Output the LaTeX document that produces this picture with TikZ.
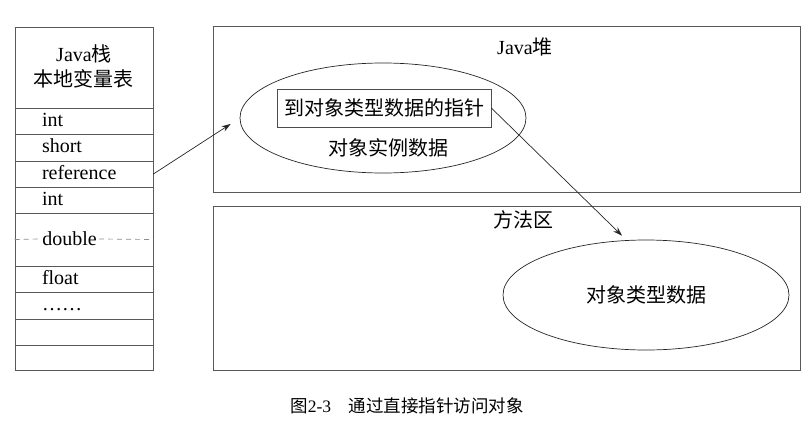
\documentclass[tikz,border=0pt]{standalone}
\usepackage{fontspec}
\setmainfont{Liberation Serif}
\newfontfamily\cjk{Noto Sans CJK SC}
\usetikzlibrary{shapes.geometric,arrows.meta}
\begin{document}
\begin{tikzpicture}
  [x=1pt,y=-1pt,line width=.7pt,
   every node/.style={font=\fontsize{20}{25}\selectfont},
   cell/.style={rectangle,draw=black!65,minimum width=138pt,text width=84pt,inner xsep=27pt,inner ysep=0pt,align=left,text height=14pt,text depth=4pt},
   area/.style={rectangle,draw=black!65,minimum width=587pt},
   blob/.style={ellipse,draw=black!85,minimum width=286pt,minimum height=110pt},
   link/.style={draw=black!85,-{Stealth[length=9pt,width=6pt]}}]
  \useasboundingbox (0,0) rectangle (809,423);
  % Java stack
  \node[cell,minimum height=81pt] (head) at (84,67.5) {};
  \node[align=center] (headtxt) at (84,66) {Java{\cjk 栈}\\{\cjk 本地变量表}};
  \foreach \name/\txt/\top/\bot in {int1/int/108/134,short/short/134/161,ref/reference/161/187,int2/int/187/213,
      dbl//213/266,flt/float/266/292,dots/……/292/319,free1//319/345,free2//345/370}
    \node[cell,minimum height={(\bot-\top)*1pt}] (\name) at (84,{(\top+\bot)/2}) {\txt};
  \node[anchor=west,inner xsep=2pt] (dbltxt) at (40,239) {double};
  \draw[dash pattern=on 5pt off 4pt,black!45] (dbl.west) -- (dbltxt.west) (dbltxt.east) -- (dbl.east);
  % heap and method area
  \node[area,minimum height=166pt] (heap) at (506.5,109) {};
  \node (heaptxt) at (525,47) {Java{\cjk 堆}};
  \node[area,minimum height=164pt] (method) at (506.5,288) {};
  \node (methodtxt) at (523,220) {\cjk 方法区};
  \node[blob] (obj) at (383,118) {};
  \node[rectangle,draw=black!70,minimum width=214pt,minimum height=38pt,inner sep=0pt] (ptr) at (384,108) {\cjk 到对象类型数据的指针};
  \node (inst) at (388,148) {\cjk 对象实例数据};
  \node[blob] (tdata) at (646,295) {\cjk 对象类型数据};
  % arrows
  \coordinate (tip1) at ([xshift=-9pt,yshift=-6pt]obj.west);
  \coordinate (tip2) at ([xshift=-24pt,yshift=4pt]tdata.north);
  \draw[link] (ref.east) -- (tip1);
  \draw[link] (ptr.east) -- (tip2);
  \node[font=\fontsize{17.5}{20}\selectfont] (cap) at (407,406) {{\cjk 图}2-3\quad{\cjk 通过直接指针访问对象}};
\end{tikzpicture}
\end{document}
